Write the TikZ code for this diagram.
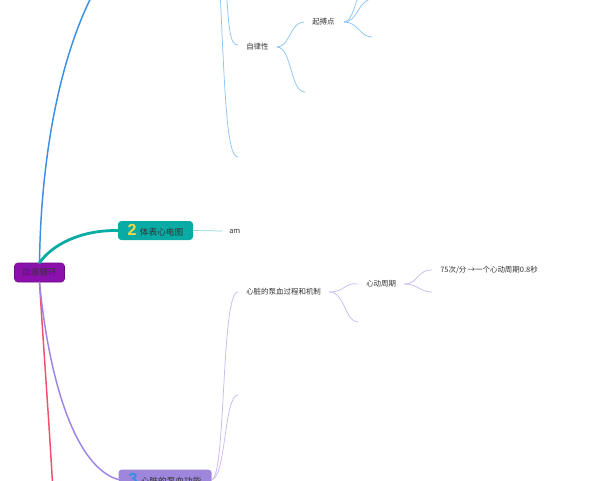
\documentclass[tikz,border=0pt]{standalone}
\usepackage{fontspec}
\setmainfont{Noto Sans CJK SC}
\newfontfamily\numfont{Liberation Sans}
\definecolor{rootfill}{HTML}{8C10AC}
\definecolor{rootdraw}{HTML}{6E0A88}
\definecolor{tealc}{HTML}{0AAAA5}
\definecolor{tealthin}{HTML}{8ED8D4}
\definecolor{bluec}{HTML}{3B8FE3}
\definecolor{bluethin}{HTML}{8CC3F2}
\definecolor{redc}{HTML}{F0506C}
\definecolor{lavc}{HTML}{9C86E2}
\definecolor{lavthin}{HTML}{C8B9F1}
\definecolor{lavfill}{HTML}{9D86DC}
\definecolor{yel}{HTML}{F6DB45}
\definecolor{num3}{HTML}{2E8FE8}
\definecolor{txt}{HTML}{333333}
\tikzset{
  topicbox/.style={rounded corners=2.5pt, inner sep=0pt, text=txt, font=\fontsize{6.5}{8}\selectfont},
  leaftext/.style={anchor=west, inner sep=0pt, text=txt, font=\fontsize{5.6}{7}\selectfont},
  thickline/.style={line width=2.1pt, line cap=round},
  mainline/.style={line width=1.1pt, line cap=round},
  thinline/.style={line width=0.55pt, line cap=round}
}
\begin{document}
\begin{tikzpicture}[x=0.75pt,y=-0.75pt]
\useasboundingbox (0,0) rectangle (600,480);
\clip (0,0) rectangle (600,480);
% nodes
\node[topicbox, fill=rootfill, draw=rootdraw, line width=0.4pt, minimum width=37.5pt, minimum height=14.25pt] (root) at (39.5,272.5) {血液循环};
\node[topicbox, fill=tealc, minimum width=56.25pt, minimum height=14.25pt] (n2) at (155.5,230.5) {{\numfont\bfseries\fontsize{12}{12}\selectfont\color{yel}2}\hspace{2.5pt}体表心电图};
\node[leaftext, font=\fontsize{5.6}{7}\selectfont] (am) at (229,231) {am};
\node[topicbox, fill=lavfill, minimum width=69.75pt, minimum height=15pt] (n3) at (165,479.5) {{\numfont\bfseries\fontsize{12}{12}\selectfont\color{num3}3}\hspace{2.5pt}心脏的泵血功能};
\node[leaftext] (pump) at (246,292) {心脏的泵血过程和机制};
\node[leaftext] (cycle) at (366,284) {心动周期};
\node[leaftext] (rate) at (440,270) {75次/分\,→一个心动周期0.8秒};
\node[leaftext] (auto) at (246,47) {自律性};
\node[leaftext] (pace) at (312,22) {起搏点};
% free ends
\coordinate (btop) at (96,-12);
\coordinate (upA) at (220,-12);
\coordinate (upB) at (226,-12);
\coordinate (e157) at (238,157);
\coordinate (e45) at (238,45);
\coordinate (a92) at (305,92);
\coordinate (p1) at (373,-1);
\coordinate (p2) at (372,-24);
\coordinate (p37) at (372,37);
\coordinate (redend) at (53,492);
\coordinate (l395) at (238,395);
\coordinate (c322) at (358,322);
\coordinate (r292) at (432,292);
% main branches
\draw[mainline, bluec] (root.north) .. controls (41,150) and (62,50) .. (btop);
\draw[thickline, tealc] (root.north) .. controls (52,245) and (80,230) .. (n2.west);
\draw[mainline, redc] (root.south) .. controls (43,340) and (49,420) .. (redend);
\draw[mainline, lavc] (root.south) .. controls (50,390) and (78,468) .. (n3.west);
% teal sub
\draw[thinline, tealthin] (n2.east) -- ([xshift=-5pt]am.west);
% blue top subs
\draw[thinline, bluethin] (upA) .. controls (225,100) and (227,157) .. (e157);
\draw[thinline, bluethin] (upB) .. controls (229,25) and (229,45) .. (e45);
\draw[thinline, bluethin] ([xshift=6pt]auto.east) .. controls (290,47) and (290,22) .. ([xshift=-6pt]pace.west);
\draw[thinline, bluethin] ([xshift=6pt]auto.east) .. controls (292,47) and (290,92) .. (a92);
\draw[thinline, bluethin] ([xshift=7pt]pace.east) .. controls (358,22) and (358,-1) .. (p1);
\draw[thinline, bluethin] ([xshift=7pt]pace.east) .. controls (356,22) and (358,-24) .. (p2);
\draw[thinline, bluethin] ([xshift=7pt]pace.east) .. controls (358,22) and (360,37) .. (p37);
% lavender subs
\draw[thinline, lavthin] (n3.east) .. controls (226,478) and (221,290) .. ([xshift=-6pt]pump.west);
\draw[thinline, lavthin] (n3.east) .. controls (226,478) and (224,395) .. (l395);
\draw[thinline, lavthin] ([xshift=6pt]pump.east) .. controls (345,292) and (345,282) .. ([xshift=-6pt]cycle.west);
\draw[thinline, lavthin] ([xshift=6pt]pump.east) .. controls (345,292) and (345,322) .. (c322);
\draw[thinline, lavthin] ([xshift=6pt]cycle.east) .. controls (418,284) and (418,269) .. ([xshift=-6pt]rate.west);
\draw[thinline, lavthin] ([xshift=6pt]cycle.east) .. controls (418,284) and (420,292) .. (r292);
\end{tikzpicture}
\end{document}
